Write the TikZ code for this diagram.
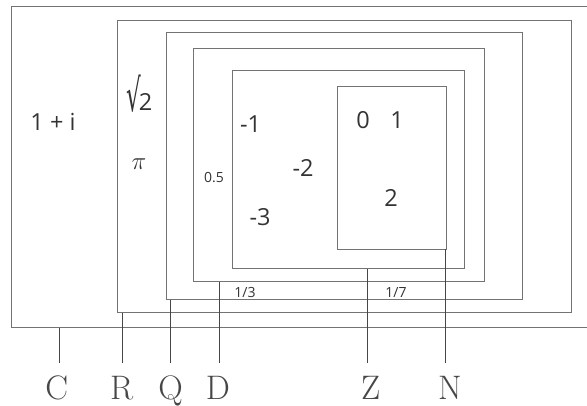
\documentclass[tikz,border=0pt]{standalone}
\usepackage{fontspec}
\newfontfamily\numfont{Open Sans}
\newfontfamily\symfont{DejaVu Sans}
\usetikzlibrary{positioning}

\begin{document}
\begin{tikzpicture}[x=1pt,y=-1pt,
  setbox/.style={draw=black!55,line width=1pt,inner sep=0pt,outer sep=0pt,
                 anchor=north west},
  num/.style={font=\numfont\fontsize{23.5}{25}\selectfont,text=black!80,inner sep=0pt},
  small/.style={font=\numfont\fontsize{14}{16}\selectfont,text=black!80,inner sep=0pt},
  lbl/.style={font=\fontsize{34}{36}\selectfont,text=black!72,inner sep=0pt,anchor=base},
  leader/.style={draw=black!72,line width=1.3pt}]
\clip (0,0) rectangle (587,405);
% nested number sets
\node[setbox,minimum width=585pt,minimum height=321pt] (C) at (11.5,6.5) {};
\node[setbox,minimum width=453.5pt,minimum height=292pt] (R) at (117.5,20.5) {};
\node[setbox,minimum width=356pt,minimum height=267pt] (Q) at (166.5,32.5) {};
\node[setbox,minimum width=291pt,minimum height=233pt] (D) at (193.5,48.5) {};
\node[setbox,minimum width=232pt,minimum height=198pt] (Z) at (232.5,70.5) {};
\node[setbox,minimum width=108.5pt,minimum height=162.5pt] (N) at (337.5,86.5) {};
% elements
\node[num] (cplx) at (53,122) {1 + i};
\node[num,anchor=base west] (sqr) at (126,110)
  {{\symfont\fontsize{22}{22}\selectfont\raisebox{-1.5pt}{\scalebox{1.05}[2.05]{√}}}\kern-2pt2};
\node[font=\fontsize{28}{30}\selectfont,text=black!80,inner sep=0pt] (pi) at (139,164) {$\pi$};
\node[small] (half) at (214,178) {0.5};
\node[small] (third) at (245,292) {1/3};
\node[small] (sev) at (396,292) {1/7};
\node[num] (m1) at (250.5,124) {-1};
\node[num] (m2) at (303,168) {-2};
\node[num] (m3) at (260,217) {-3};
\node[num] (n0) at (363,120) {0};
\node[num] (n1) at (397,120) {1};
\node[num] (n2) at (391,198) {2};
% set names
\foreach \n/\x/\lx in {C/59.5/56.7,R/122.5/121.7,Q/170.5/170.7,D/219.5/218,Z/367.5/370.7,N/445.5/450}{
  \coordinate (end\n) at (\x,363);
  \draw[leader] (\n.south -| end\n) -- (end\n);
  \node[lbl] (lab\n) at (\lx,399) {\n};
}
\end{tikzpicture}
\end{document}
